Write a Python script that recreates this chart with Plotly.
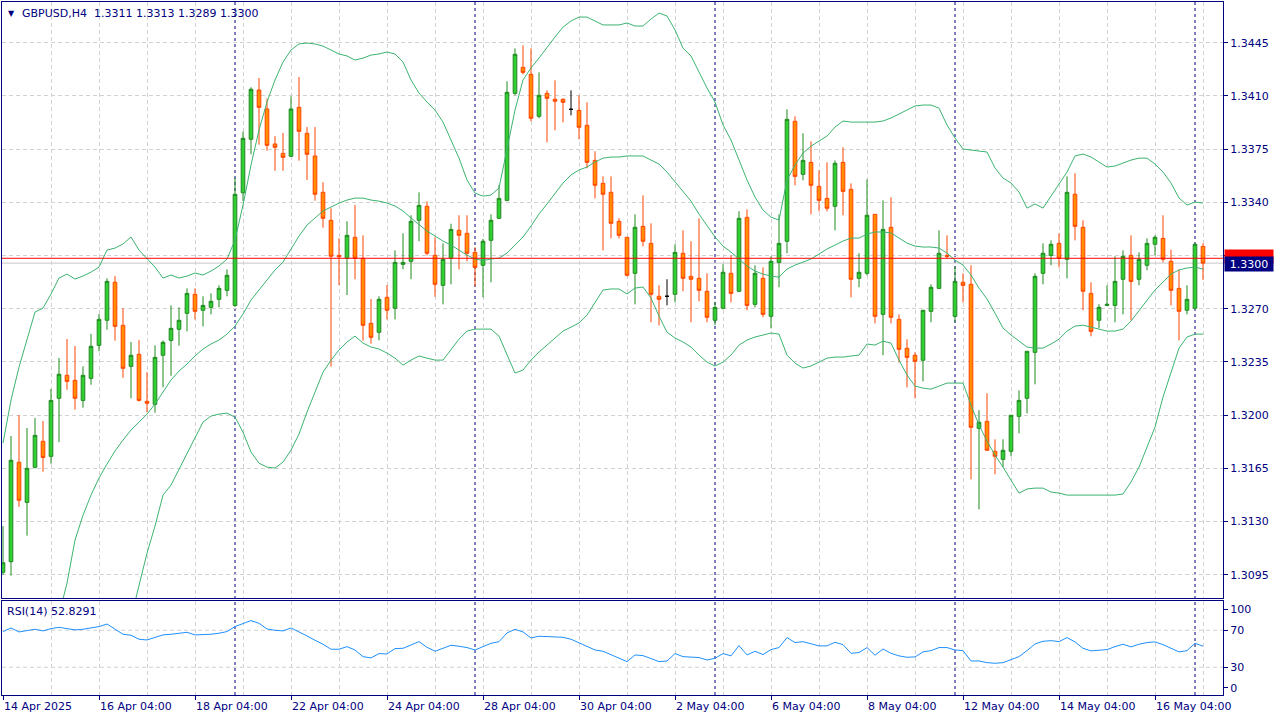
import plotly.graph_objects as go

# ---------------- data (GBPUSD, H4) ----------------
opens = [
 1.30966, 1.31036, 1.31690, 1.31426, 1.31657, 1.31828, 1.31729, 1.32111, 1.32262, 1.32229,
 1.32097, 1.32242, 1.32459, 1.32624, 1.32874, 1.32591, 1.32321, 1.32400, 1.32091, 1.32071,
 1.32394, 1.32492, 1.32565, 1.32670, 1.32795, 1.32690, 1.32709, 1.32762, 1.32821, 1.32722,
 1.33463, 1.33815, 1.34139, 1.34014, 1.33784, 1.33722, 1.33703, 1.34025, 1.33854, 1.33705,
 1.33466, 1.33282, 1.33051, 1.33032, 1.33170, 1.33032, 1.32604, 1.32545, 1.32775, 1.32703,
 1.32992, 1.33012, 1.33282, 1.33374, 1.33051, 1.32854, 1.33032, 1.33216, 1.33196, 1.33071,
 1.32986, 1.33150, 1.33295, 1.33413, 1.34117, 1.34288, 1.34242, 1.33966, 1.34117, 1.34078,
 1.34078, 1.34012, 1.34005, 1.33907, 1.33676, 1.33525, 1.33466, 1.33275, 1.33170, 1.32933,
 1.33242, 1.33130, 1.32782, 1.32782, 1.32795, 1.33065, 1.32913, 1.32900, 1.32815, 1.32624,
 1.32703, 1.32933, 1.32815, 1.33301, 1.32729, 1.32900, 1.32650, 1.33005, 1.33144, 1.33933,
 1.33584, 1.33663, 1.33505, 1.33426, 1.33374, 1.33663, 1.33486, 1.32900, 1.32933, 1.33321,
 1.32663, 1.33236, 1.32630, 1.32440, 1.32394, 1.32361, 1.32683, 1.32834, 1.33051, 1.32650,
 1.32874, 1.32861, 1.31913, 1.31959, 1.31762, 1.31709, 1.31762, 1.31992, 1.32111, 1.32413,
 1.32933, 1.33051, 1.33130, 1.33025, 1.33453, 1.33236, 1.32801, 1.32624, 1.32722, 1.32722,
 1.32894, 1.33051, 1.32894, 1.32986, 1.33124, 1.33163, 1.33012, 1.32834, 1.32690, 1.32703,
 1.3311]
highs = [
 1.31270, 1.31863, 1.32001, 1.31915, 1.31981, 1.31961, 1.32172, 1.32376, 1.32501, 1.32455,
 1.32321, 1.32534, 1.32665, 1.32900, 1.32915, 1.32703, 1.32481, 1.32494, 1.32282, 1.32459,
 1.32492, 1.32722, 1.32709, 1.32834, 1.32834, 1.32782, 1.32801, 1.32854, 1.32959, 1.33560,
 1.33865, 1.34157, 1.34218, 1.34082, 1.33836, 1.33856, 1.34097, 1.34224, 1.33895, 1.33895,
 1.33532, 1.33361, 1.33163, 1.33275, 1.33382, 1.33183, 1.32764, 1.32782, 1.32856, 1.33084,
 1.33196, 1.33315, 1.33466, 1.33407, 1.33170, 1.33130, 1.33259, 1.33315, 1.33315, 1.33104,
 1.33160, 1.33321, 1.33512, 1.34196, 1.34413, 1.34433, 1.34413, 1.34255, 1.34137, 1.34203,
 1.34084, 1.34137, 1.34104, 1.34058, 1.33736, 1.33571, 1.33571, 1.33295, 1.33170, 1.33321,
 1.33446, 1.33262, 1.32854, 1.32894, 1.33124, 1.33216, 1.33144, 1.33295, 1.32933, 1.32746,
 1.32992, 1.33051, 1.33341, 1.33354, 1.32986, 1.32972, 1.33045, 1.33321, 1.34012, 1.33966,
 1.33854, 1.33801, 1.33611, 1.33663, 1.33676, 1.33762, 1.33525, 1.33065, 1.33551, 1.33321,
 1.33413, 1.33433, 1.32663, 1.32499, 1.32413, 1.32690, 1.32861, 1.33216, 1.33183, 1.32979,
 1.32933, 1.32986, 1.32032, 1.32144, 1.31841, 1.31841, 1.31999, 1.32163, 1.32420, 1.32933,
 1.33130, 1.33150, 1.33196, 1.33571, 1.33591, 1.33282, 1.32874, 1.32729, 1.32854, 1.33045,
 1.33084, 1.33183, 1.33071, 1.33163, 1.33183, 1.33315, 1.33088, 1.32959, 1.32854, 1.33130,
 1.3313]
lows = [
 1.30948, 1.30944, 1.31397, 1.31207, 1.31650, 1.31628, 1.31680, 1.31823, 1.32167, 1.32036,
 1.32049, 1.32200, 1.32420, 1.32562, 1.32490, 1.32246, 1.32111, 1.32090, 1.32019, 1.32016,
 1.32183, 1.32259, 1.32457, 1.32551, 1.32630, 1.32584, 1.32663, 1.32709, 1.32782, 1.32711,
 1.33409, 1.33716, 1.33779, 1.33740, 1.33608, 1.33608, 1.33700, 1.33674, 1.33547, 1.33411,
 1.33233, 1.32319, 1.32856, 1.32790, 1.32894, 1.32490, 1.32470, 1.32492, 1.32630, 1.32630,
 1.32959, 1.32894, 1.33144, 1.33051, 1.32779, 1.32729, 1.32861, 1.32959, 1.33012, 1.32847,
 1.32775, 1.32874, 1.33290, 1.33407, 1.34104, 1.34242, 1.33933, 1.33953, 1.33795, 1.33874,
 1.33926, 1.33972, 1.33815, 1.33624, 1.33426, 1.33084, 1.33163, 1.33163, 1.32913, 1.32729,
 1.33111, 1.32611, 1.32591, 1.32722, 1.32742, 1.32815, 1.32611, 1.32749, 1.32611, 1.32591,
 1.32696, 1.32742, 1.32810, 1.32690, 1.32709, 1.32644, 1.32571, 1.32841, 1.33065, 1.33512,
 1.33545, 1.33321, 1.33341, 1.33341, 1.33216, 1.33315, 1.32775, 1.32841, 1.32920, 1.32604,
 1.32394, 1.32604, 1.32347, 1.32183, 1.32111, 1.32222, 1.32611, 1.32830, 1.33032, 1.32611,
 1.32742, 1.31578, 1.31380, 1.31765, 1.31611, 1.31657, 1.31729, 1.31880, 1.32012, 1.32203,
 1.32861, 1.32986, 1.32972, 1.32900, 1.33150, 1.32690, 1.32519, 1.32571, 1.32720, 1.32611,
 1.32663, 1.32624, 1.32854, 1.32953, 1.33051, 1.33005, 1.32722, 1.32492, 1.32663, 1.32700,
 1.3289]
closes = [
 1.31029, 1.31703, 1.31440, 1.31650, 1.31867, 1.31722, 1.32097, 1.32269, 1.32222, 1.32111,
 1.32262, 1.32453, 1.32630, 1.32880, 1.32584, 1.32308, 1.32394, 1.32097, 1.32078, 1.32380,
 1.32479, 1.32571, 1.32624, 1.32801, 1.32683, 1.32722, 1.32749, 1.32834, 1.32920, 1.33453,
 1.33821, 1.34144, 1.34025, 1.33775, 1.33762, 1.33696, 1.34014, 1.33867, 1.33716, 1.33453,
 1.33295, 1.33045, 1.33042, 1.33183, 1.33032, 1.32591, 1.32512, 1.32762, 1.32690, 1.33005,
 1.33005, 1.33275, 1.33380, 1.33065, 1.32861, 1.33025, 1.33222, 1.33183, 1.33065, 1.32972,
 1.33144, 1.33282, 1.33426, 1.34124, 1.34374, 1.34255, 1.33953, 1.34104, 1.34084, 1.34065,
 1.34058, 1.34012, 1.33894, 1.33663, 1.33512, 1.33453, 1.33262, 1.33183, 1.32920, 1.33236,
 1.33144, 1.32795, 1.32762, 1.32782, 1.33071, 1.32900, 1.32894, 1.32821, 1.32644, 1.32709,
 1.32940, 1.32801, 1.33295, 1.32722, 1.32933, 1.32663, 1.33012, 1.33130, 1.33946, 1.33571,
 1.33676, 1.33512, 1.33413, 1.33361, 1.33657, 1.33472, 1.32894, 1.32940, 1.33315, 1.32650,
 1.33222, 1.32644, 1.32433, 1.32380, 1.32354, 1.32690, 1.32841, 1.33065, 1.33045, 1.32880,
 1.32854, 1.31920, 1.31953, 1.31769, 1.31729, 1.31769, 1.31999, 1.32097, 1.32420, 1.32913,
 1.33065, 1.33124, 1.33032, 1.33466, 1.33242, 1.32815, 1.32551, 1.32709, 1.32729, 1.32880,
 1.33045, 1.32880, 1.33025, 1.33130, 1.33170, 1.33025, 1.32821, 1.32683, 1.32762, 1.33124,
 1.3300]

bb_upper = [
 1.31816, 1.32099, 1.32316, 1.32494, 1.32678, 1.32704, 1.32797, 1.32902, 1.32928, 1.32895,
 1.32915, 1.32941, 1.32974, 1.33086, 1.33099, 1.33126, 1.33172, 1.33086, 1.33033, 1.32974,
 1.32902, 1.32922, 1.32902, 1.32915, 1.32935, 1.32922, 1.32948, 1.32981, 1.33027, 1.33152,
 1.33382, 1.33645, 1.33876, 1.34060, 1.34205, 1.34323, 1.34402, 1.34442, 1.34448, 1.34442,
 1.34428, 1.34402, 1.34376, 1.34363, 1.34336, 1.34349, 1.34369, 1.34376, 1.34389, 1.34376,
 1.34323, 1.34205, 1.34119, 1.34060, 1.34007, 1.33928, 1.33810, 1.33691, 1.33547, 1.33461,
 1.33441, 1.33448, 1.33494, 1.33744, 1.34007, 1.34205, 1.34284, 1.34349, 1.34422, 1.34488,
 1.34553, 1.34593, 1.34619, 1.34619, 1.34593, 1.34567, 1.34567, 1.34567, 1.34580, 1.34560,
 1.34560, 1.34606, 1.34645, 1.34626, 1.34534, 1.34415, 1.34363, 1.34257, 1.34152, 1.34060,
 1.33909, 1.33810, 1.33678, 1.33547, 1.33435, 1.33349, 1.33303, 1.33283, 1.33547, 1.33645,
 1.33724, 1.33770, 1.33803, 1.33836, 1.33895, 1.33935, 1.33928, 1.33928, 1.33928, 1.33928,
 1.33935, 1.33955, 1.33981, 1.34007, 1.34034, 1.34040, 1.34040, 1.34020, 1.33909, 1.33823,
 1.33751, 1.33744, 1.33737, 1.33731, 1.33626, 1.33560, 1.33527, 1.33468, 1.33362, 1.33389,
 1.33362, 1.33441, 1.33514, 1.33599, 1.33705, 1.33718, 1.33698, 1.33665, 1.33632, 1.33639,
 1.33659, 1.33678, 1.33691, 1.33691, 1.33652, 1.33599, 1.33527, 1.33428, 1.33382, 1.33402,
 1.33395]
bb_middle = [
 1.30126, 1.30192, 1.30258, 1.30324, 1.30389, 1.30455, 1.30521, 1.30685, 1.30895, 1.31178,
 1.31342, 1.31474, 1.31586, 1.31678, 1.31764, 1.31836, 1.31902, 1.31954, 1.32007, 1.32073,
 1.32152, 1.32231, 1.32290, 1.32336, 1.32389, 1.32435, 1.32468, 1.32494, 1.32533, 1.32586,
 1.32665, 1.32757, 1.32823, 1.32889, 1.32955, 1.33007, 1.33093, 1.33178, 1.33251, 1.33297,
 1.33343, 1.33369, 1.33395, 1.33415, 1.33428, 1.33428, 1.33415, 1.33408, 1.33395, 1.33376,
 1.33343, 1.33297, 1.33257, 1.33211, 1.33178, 1.33145, 1.33119, 1.33086, 1.33053, 1.33027,
 1.33017, 1.33027, 1.33033, 1.33066, 1.33119, 1.33172, 1.33244, 1.33323, 1.33389, 1.33461,
 1.33527, 1.33580, 1.33613, 1.33632, 1.33665, 1.33691, 1.33698, 1.33698, 1.33705, 1.33705,
 1.33705, 1.33678, 1.33652, 1.33599, 1.33534, 1.33468, 1.33408, 1.33323, 1.33244, 1.33172,
 1.33112, 1.33073, 1.33027, 1.32981, 1.32948, 1.32928, 1.32915, 1.32908, 1.32961, 1.32987,
 1.33007, 1.33027, 1.33060, 1.33093, 1.33119, 1.33145, 1.33165, 1.33165, 1.33191, 1.33205,
 1.33205, 1.33198, 1.33165, 1.33132, 1.33112, 1.33106, 1.33106, 1.33099, 1.33066, 1.33020,
 1.32987, 1.32922, 1.32836, 1.32764, 1.32671, 1.32573, 1.32527, 1.32487, 1.32448, 1.32441,
 1.32441, 1.32468, 1.32500, 1.32553, 1.32586, 1.32592, 1.32579, 1.32566, 1.32553, 1.32553,
 1.32566, 1.32619, 1.32685, 1.32750, 1.32823, 1.32876, 1.32928, 1.32955, 1.32968, 1.32974,
 1.32961]
bb_lower = [
 1.28810, 1.28942, 1.29073, 1.29205, 1.29336, 1.29468, 1.29600, 1.29731, 1.29863, 1.29994,
 1.30093, 1.30192, 1.30291, 1.30389, 1.30468, 1.30554, 1.30666, 1.30875, 1.31092, 1.31270,
 1.31474, 1.31540, 1.31645, 1.31750, 1.31849, 1.31954, 1.31994, 1.32007, 1.32013, 1.31987,
 1.31888, 1.31757, 1.31684, 1.31658, 1.31652, 1.31691, 1.31770, 1.31875, 1.32020, 1.32152,
 1.32283, 1.32362, 1.32428, 1.32481, 1.32520, 1.32474, 1.32448, 1.32435, 1.32408, 1.32375,
 1.32329, 1.32362, 1.32389, 1.32375, 1.32362, 1.32362, 1.32428, 1.32500, 1.32553, 1.32566,
 1.32566, 1.32566, 1.32520, 1.32395, 1.32277, 1.32297, 1.32362, 1.32415, 1.32461, 1.32507,
 1.32553, 1.32579, 1.32606, 1.32658, 1.32737, 1.32823, 1.32830, 1.32830, 1.32797, 1.32836,
 1.32843, 1.32770, 1.32652, 1.32546, 1.32507, 1.32481, 1.32448, 1.32395, 1.32349, 1.32323,
 1.32349, 1.32395, 1.32461, 1.32494, 1.32514, 1.32527, 1.32540, 1.32533, 1.32395, 1.32342,
 1.32310, 1.32323, 1.32349, 1.32375, 1.32382, 1.32382, 1.32389, 1.32395, 1.32468, 1.32461,
 1.32487, 1.32474, 1.32362, 1.32264, 1.32191, 1.32178, 1.32171, 1.32191, 1.32211, 1.32211,
 1.32211, 1.32066, 1.31935, 1.31829, 1.31737, 1.31658, 1.31573, 1.31487, 1.31514, 1.31520,
 1.31520, 1.31494, 1.31487, 1.31474, 1.31474, 1.31474, 1.31474, 1.31474, 1.31474, 1.31474,
 1.31481, 1.31560, 1.31658, 1.31790, 1.31921, 1.32119, 1.32283, 1.32441, 1.32514, 1.32533,
 1.32533]

rsi = [
 68.6, 72.5, 68.2, 70.0, 71.1, 69.3, 71.8, 73.2, 71.4, 70.4,
 71.1, 72.2, 74.0, 76.8, 71.1, 65.7, 64.6, 60.3, 59.5, 62.4,
 65.0, 65.7, 66.4, 67.8, 65.0, 65.3, 65.7, 66.8, 68.6, 74.0,
 77.2, 80.5, 77.6, 71.4, 70.0, 69.3, 72.5, 68.6, 63.9, 59.2,
 54.9, 49.5, 49.5, 52.3, 48.7, 41.5, 40.1, 44.8, 44.4, 50.2,
 50.5, 54.1, 57.7, 51.6, 47.3, 50.5, 53.8, 52.7, 51.3, 48.7,
 52.3, 55.9, 57.7, 67.1, 71.1, 68.2, 61.7, 63.5, 63.2, 62.8,
 62.4, 60.3, 56.7, 52.3, 48.7, 47.3, 43.7, 40.5, 36.1, 43.3,
 42.6, 39.4, 36.1, 36.8, 44.8, 41.5, 41.2, 40.5, 37.9, 39.7,
 44.8, 42.3, 53.4, 43.3, 47.3, 43.7, 49.1, 51.3, 62.1, 56.7,
 57.7, 55.6, 53.1, 53.1, 57.0, 54.5, 45.1, 45.9, 51.3, 43.0,
 49.8, 45.1, 42.3, 40.8, 41.2, 46.6, 48.0, 51.3, 51.3, 48.7,
 48.0, 36.8, 36.8, 35.0, 34.3, 35.0, 38.3, 41.5, 48.0, 55.2,
 58.1, 58.8, 57.7, 62.1, 57.4, 50.5, 47.7, 48.7, 49.1, 52.3,
 54.9, 52.0, 54.9, 56.7, 57.4, 54.5, 50.5, 46.6, 48.0, 55.9,
 52.8291]

symbol = "GBPUSD,H4"
rsi_period = 14
time_tick_bars = [0, 12, 24, 36, 48, 60, 72, 84, 96, 108, 120, 132, 144]
time_tick_labels = ["14 Apr 2025", "16 Apr 04:00", "18 Apr 04:00", "22 Apr 04:00",
                    "24 Apr 04:00", "28 Apr 04:00", "30 Apr 04:00", "2 May 04:00",
                    "6 May 04:00", "8 May 04:00", "12 May 04:00", "14 May 04:00",
                    "16 May 04:00"]
week_start_bars = [29, 59, 89, 119, 149]
price_ticks = [1.3095, 1.3130, 1.3165, 1.3200, 1.3235, 1.3270, 1.3305,
               1.3340, 1.3375, 1.3410, 1.3445]
price_tick_labels = ["1.3095", "1.3130", "1.3165", "1.3200", "1.3235", "1.3270", "",
                     "1.3340", "1.3375", "1.3410", "1.3445"]
rsi_levels = [70, 30]
rsi_tick_labels = ["100", "70", "30", "0"]
hline_level = 1.33032

# ---------------- styling ----------------
NAVY = "#000080"
GRID = "#d2d2d2"
FONT = "DejaVu Sans"
BULL_LINE, BULL_FILL = "#1f8a1f", "#32cd32"
BEAR_LINE, BEAR_FILL = "#ff4500", "#ff8c00"
BB_COLOR = "#3cb371"
RSI_COLOR = "#1e90ff"

n = len(closes)
xs = list(range(n))
is_doji = [abs(o - c) < 1e-9 for o, c in zip(opens, closes)]

def masked(vals, keep):
    return [v if k else None for v, k in zip(vals, keep)]

normal = [not d for d in is_doji]

fig = go.Figure()
fig.add_trace(go.Candlestick(
    x=xs, open=masked(opens, normal), high=masked(highs, normal),
    low=masked(lows, normal), close=masked(closes, normal),
    increasing=dict(line=dict(color=BULL_LINE, width=1), fillcolor=BULL_FILL),
    decreasing=dict(line=dict(color=BEAR_LINE, width=1), fillcolor=BEAR_FILL),
    whiskerwidth=0, hoverinfo="skip", showlegend=False, xaxis="x", yaxis="y"))
fig.add_trace(go.Candlestick(
    x=xs, open=masked(opens, is_doji), high=masked(highs, is_doji),
    low=masked(lows, is_doji), close=masked(closes, is_doji),
    increasing=dict(line=dict(color="black", width=1), fillcolor="black"),
    decreasing=dict(line=dict(color="black", width=1), fillcolor="black"),
    whiskerwidth=0, hoverinfo="skip", showlegend=False, xaxis="x", yaxis="y"))

for band in (bb_upper, bb_middle, bb_lower):
    fig.add_trace(go.Scatter(x=xs, y=band, mode="lines",
                             line=dict(color=BB_COLOR, width=1),
                             hoverinfo="skip", showlegend=False,
                             xaxis="x", yaxis="y"))

fig.add_trace(go.Scatter(x=xs, y=rsi, mode="lines",
                         line=dict(color=RSI_COLOR, width=1),
                         hoverinfo="skip", showlegend=False,
                         xaxis="x2", yaxis="y2"))

# geometry (pixels)
W, H = 1280, 720
ml, mr, mt, mb = 2, 57, 2, 25
ph = H - mt - mb
main_bottom_px = 598
rsi_top_px = 600.5
main_dom = [(H - mb - main_bottom_px) / ph, 1]
rsi_dom = [0, (H - mb - rsi_top_px) / ph]

x_range = [-0.125, 152.5]
y_range = [1.30797, 1.34718]
rsi_range = [0, 102.2]

grid_common = dict(showgrid=True, gridcolor=GRID, griddash="4px,3px", gridwidth=1)
xaxis_common = dict(range=x_range, tickmode="linear", tick0=0, dtick=12,
                    zeroline=False, showline=True, mirror=True,
                    linecolor=NAVY, linewidth=1, fixedrange=True,
                    minor=dict(tick0=0, dtick=6, showgrid=True, gridcolor=GRID,
                               griddash="4px,3px", ticks=""),
                    rangeslider=dict(visible=False), **grid_common)

tick_font = dict(family=FONT, size=11, color=NAVY)

fig.update_layout(
    width=W, height=H,
    margin=dict(l=ml, r=mr, t=mt, b=mb, autoexpand=False),
    paper_bgcolor="white", plot_bgcolor="white",
    boxgap=0.35,
    showlegend=False,
    xaxis=dict(anchor="y", domain=[0, 1], showticklabels=False, ticks="",
               **xaxis_common),
    xaxis2=dict(anchor="y2", domain=[0, 1], showticklabels=False, ticks="outside",
                ticklen=4, tickcolor=NAVY, **xaxis_common),
    yaxis=dict(anchor="x", domain=main_dom, range=y_range, side="right",
               tickmode="array", tickvals=price_ticks, ticktext=price_tick_labels,
               ticks="outside", ticklen=4, tickcolor=NAVY, tickfont=tick_font,
               zeroline=False, showline=True, mirror=True, linecolor=NAVY,
               linewidth=1, fixedrange=True, **grid_common),
    yaxis2=dict(anchor="x2", domain=rsi_dom, range=rsi_range, side="right",
                tickmode="array", tickvals=[93.0, 70, 30, 7.6],
                ticktext=rsi_tick_labels, ticks="outside", ticklen=4,
                tickcolor=NAVY, tickfont=tick_font, showgrid=False,
                zeroline=False, showline=True, mirror=True, linecolor=NAVY,
                linewidth=1, fixedrange=True),
)

shapes = []
for lvl in rsi_levels:
    shapes.append(dict(type="line", xref="x2 domain", yref="y2", x0=0, x1=1,
                       y0=lvl, y1=lvl, layer="below",
                       line=dict(color=GRID, width=1, dash="4px,3px")))
for b in week_start_bars:
    shapes.append(dict(type="line", xref="x", yref="paper", x0=b, x1=b,
                       y0=0, y1=1, layer="below",
                       line=dict(color=NAVY, width=1, dash="3px,3px")))
shapes.append(dict(type="line", xref="x domain", yref="y", x0=0, x1=1,
                   y0=closes[-1], y1=closes[-1], layer="below",
                   line=dict(color="#c8c8c8", width=1)))
shapes.append(dict(type="line", xref="x domain", yref="y", x0=0, x1=1,
                   y0=hline_level, y1=hline_level, layer="above",
                   line=dict(color="red", width=1)))
fig.update_layout(shapes=shapes)

annotations = []
label_font = dict(family=FONT, size=11, color=NAVY)
# header
annotations.append(dict(xref="paper", yref="paper", x=0, y=1, xanchor="left",
                        yanchor="top", xshift=4, yshift=-5, showarrow=False,
                        text="\u25bc", font=dict(family="DejaVu Sans", size=8, color=NAVY)))
header = (f"{symbol}\u00a0\u00a0{opens[-1]:.4f} {highs[-1]:.4f} "
          f"{lows[-1]:.4f} {closes[-1]:.4f}")
annotations.append(dict(xref="paper", yref="paper", x=0, y=1, xanchor="left",
                        yanchor="top", xshift=18, yshift=-3, showarrow=False,
                        text=header, font=label_font))
annotations.append(dict(xref="paper", yref="paper", x=0, y=rsi_dom[1],
                        xanchor="left", yanchor="top", xshift=3, yshift=-2,
                        showarrow=False, text=f"RSI({rsi_period}) {rsi[-1]:.4f}",
                        font=label_font))
# time labels
for b, t in zip(time_tick_bars, time_tick_labels):
    annotations.append(dict(xref="x2", yref="paper", x=b, y=0, xanchor="left",
                            yanchor="top", xshift=-1, yshift=-3, showarrow=False,
                            text=t, font=label_font))
# price boxes on right axis (red line label is hidden behind the bid label)
annotations.append(dict(xref="paper", yref="y", x=1, y=hline_level, xanchor="left",
                        yanchor="middle", xshift=1, yshift=2, showarrow=False,
                        text="\u00a0", width=46, height=11,
                        bgcolor="red", font=dict(family=FONT, size=11, color="white")))
annotations.append(dict(xref="paper", yref="y", x=1, y=closes[-1], xanchor="left",
                        yanchor="middle", xshift=1, yshift=-1, showarrow=False,
                        text=f"{closes[-1]:.4f}", width=46, height=12,
                        bgcolor=NAVY, font=dict(family=FONT, size=11, color="white")))
fig.update_layout(annotations=annotations)

fig.write_html("out.html", config={"displayModeBar": False},
               post_script="document.body.style.margin='0';"
                           "document.body.style.overflow='hidden';")
